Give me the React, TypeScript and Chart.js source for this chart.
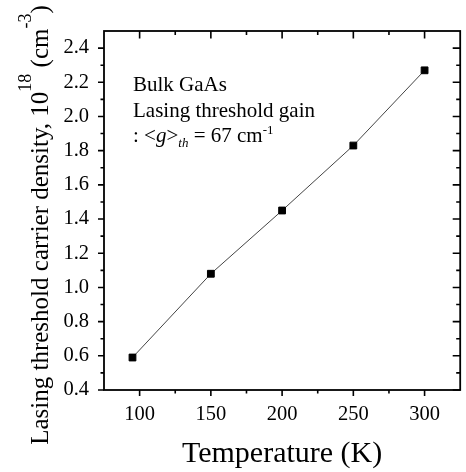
import React, { useEffect, useRef } from 'react';
import { Chart, registerables } from 'chart.js';

Chart.register(...registerables);

// ---- data ----
const temperatures = [95, 150, 200, 250, 300];
const densities = [0.59, 1.08, 1.45, 1.83, 2.27];
const xTickValues = [100, 150, 200, 250, 300];
const xMinorValues = [125, 175, 225, 275];
const yTickValues = [0.4, 0.6, 0.8, 1.0, 1.2, 1.4, 1.6, 1.8, 2.0, 2.2, 2.4];
const yMinorValues = [0.5, 0.7, 0.9, 1.1, 1.3, 1.5, 1.7, 1.9, 2.1, 2.3];
const xTitle = 'Temperature (K)';
const yTitleRuns = [
  { text: 'Lasing threshold carrier density, 10', sup: false },
  { text: '18', sup: true },
  { text: ' (cm', sup: false },
  { text: '-3', sup: true },
  { text: ')', sup: false },
];
const annotLine1 = 'Bulk GaAs';
const annotLine2 = 'Lasing threshold gain';

const FONT = "'Liberation Serif', 'Times New Roman', serif";

type Run = { text: string; size: number; italic?: boolean; dy?: number };

function runsWidth(ctx: CanvasRenderingContext2D, runs: Run[]) {
  let w = 0;
  for (const r of runs) {
    ctx.font = `${r.italic ? 'italic ' : ''}${r.size}px ${FONT}`;
    w += ctx.measureText(r.text).width;
  }
  return w;
}

function drawRuns(ctx: CanvasRenderingContext2D, runs: Run[], x: number, y: number) {
  let cx = x;
  for (const r of runs) {
    ctx.font = `${r.italic ? 'italic ' : ''}${r.size}px ${FONT}`;
    ctx.fillText(r.text, cx, y + (r.dy || 0));
    cx += ctx.measureText(r.text).width;
  }
}

const framePlugin = {
  id: 'framePlugin',
  afterDraw(chart: any) {
    const ctx: CanvasRenderingContext2D = chart.ctx;
    const { left, right, top, bottom } = chart.chartArea;
    const xs = chart.scales.x;
    const ys = chart.scales.y;
    ctx.save();
    ctx.strokeStyle = '#000';
    ctx.lineWidth = 1.8;
    ctx.strokeRect(left, top, right - left, bottom - top);

    ctx.lineWidth = 1.6;
    ctx.beginPath();
    const xt = (vals: number[], outLen: number, inLen: number) => {
      for (const v of vals) {
        const px = xs.getPixelForValue(v);
        ctx.moveTo(px, bottom);
        ctx.lineTo(px, bottom + outLen);
        ctx.moveTo(px, top);
        ctx.lineTo(px, top + inLen);
      }
    };
    const yt = (vals: number[], outLen: number, inLen: number) => {
      for (const v of vals) {
        const py = ys.getPixelForValue(v);
        ctx.moveTo(left, py);
        ctx.lineTo(left - outLen, py);
        ctx.moveTo(right, py);
        ctx.lineTo(right - inLen, py);
      }
    };
    xt(xTickValues, 6, 7.5);
    xt(xMinorValues, 3.5, 4);
    yt(yTickValues, 6, 7.5);
    yt(yMinorValues, 3.5, 4);
    ctx.stroke();

    ctx.fillStyle = '#000';
    ctx.textBaseline = 'alphabetic';
    ctx.textAlign = 'left';

    // x title
    ctx.font = `30px ${FONT}`;
    const xw = ctx.measureText(xTitle).width;
    ctx.fillText(xTitle, (left + right) / 2 - xw / 2, 462);

    // y title (rotated)
    const yRuns: Run[] = yTitleRuns.map((r) =>
      r.sup ? { text: r.text, size: 18, dy: -17 } : { text: r.text, size: 25 }
    );
    ctx.save();
    ctx.translate(48, 225);
    ctx.rotate(-Math.PI / 2);
    const tw = runsWidth(ctx, yRuns);
    drawRuns(ctx, yRuns, -tw / 2, 0);
    ctx.restore();

    // annotation
    const ax = 133;
    ctx.font = `21px ${FONT}`;
    ctx.fillText(annotLine1, ax, 91);
    ctx.fillText(annotLine2, ax, 117);
    const line3: Run[] = [
      { text: ': <', size: 21 },
      { text: 'g', size: 21, italic: true },
      { text: '>', size: 21 },
      { text: 'th', size: 13, italic: true, dy: 5 },
      { text: ' = 67 cm', size: 21 },
      { text: '-1', size: 13, dy: -8 },
    ];
    drawRuns(ctx, line3, ax, 142);
    ctx.restore();
  },
};

export default function App() {
  const ref = useRef<HTMLCanvasElement>(null);
  useEffect(() => {
    if (!ref.current) return;
    const chart = new Chart(ref.current, {
      type: 'scatter',
      data: {
        datasets: [
          {
            data: temperatures.map((t, i) => ({ x: t, y: densities[i] })),
            showLine: true,
            borderColor: '#444',
            borderWidth: 1,
            pointStyle: 'rect',
            pointRadius: 4.8,
            pointBackgroundColor: '#000',
            pointBorderColor: '#000',
            pointBorderWidth: 1,
          },
        ],
      },
      options: {
        responsive: false,
        animation: false,
        layout: { padding: { left: 0, right: 3, top: 31, bottom: 0 } },
        plugins: { legend: { display: false }, tooltip: { enabled: false } },
        scales: {
          x: {
            type: 'linear',
            min: 75,
            max: 325,
            grid: { display: false },
            border: { display: false },
            afterBuildTicks: (s: any) => {
              s.ticks = xTickValues.map((v) => ({ value: v }));
            },
            afterFit: (s: any) => {
              s.height = 82;
            },
            ticks: {
              padding: 4,
              color: '#000',
              font: { family: FONT, size: 20.5 },
              maxRotation: 0,
              callback: (v: any) => String(v),
            },
          },
          y: {
            type: 'linear',
            min: 0.4,
            max: 2.5,
            grid: { display: false },
            border: { display: false },
            afterBuildTicks: (s: any) => {
              s.ticks = yTickValues.map((v) => ({ value: v }));
            },
            afterFit: (s: any) => {
              s.width = 104;
            },
            ticks: {
              padding: 7,
              color: '#000',
              font: { family: FONT, size: 20.5 },
              callback: (v: any) => Number(v).toFixed(1),
            },
          },
        },
      },
      plugins: [framePlugin],
    });
    return () => chart.destroy();
  }, []);
  return (
    <div style={{ position: 'absolute', left: 0, top: 0, width: 466, height: 472, background: '#fff' }}>
      <canvas ref={ref} width={466} height={472} />
    </div>
  );
}
